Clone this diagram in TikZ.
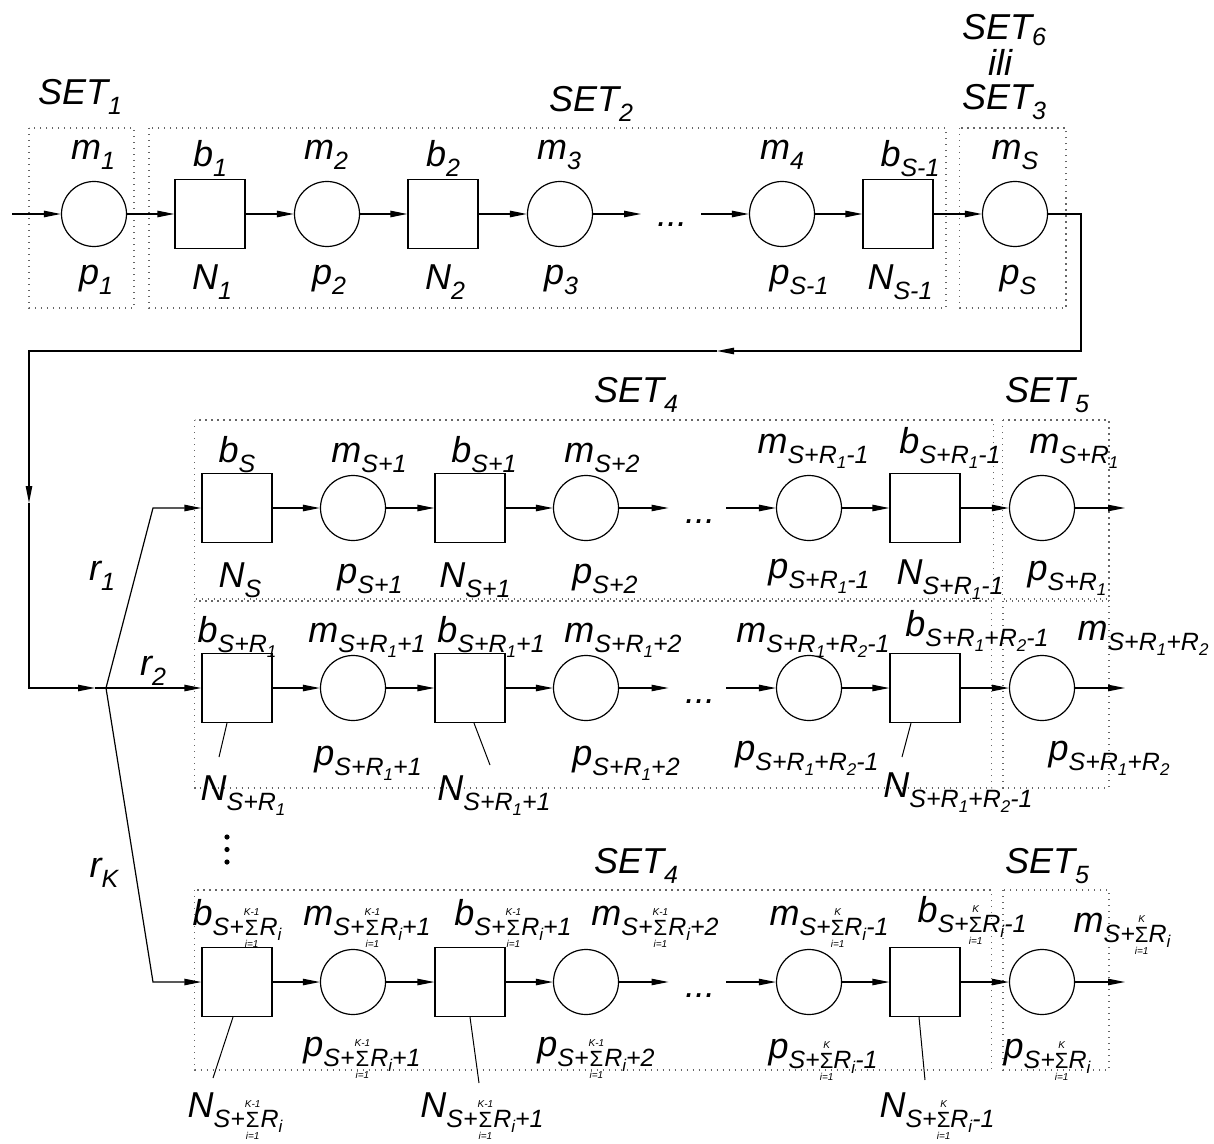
\documentclass[tikz,border=0pt]{standalone}
\usepackage{fontspec}
\setmainfont{Liberation Sans}
\usetikzlibrary{arrows.meta}
\newcommand\sbx[1]{\raisebox{-5pt}{\fontsize{12.5}{13}\selectfont #1}}
\newcommand\ssbx[1]{\raisebox{-2.5pt}{\fontsize{8.5}{9}\selectfont #1}}
\newcommand\smx[1]{\ensuremath{\mathop{\hbox{\fontsize{11}{11}\selectfont\upshape Σ}}\limits^{\hbox{\fontsize{5}{5}\selectfont #1}}_{\hbox{\fontsize{5}{5}\selectfont i=1}}}}
\tikzset{
 circ/.style={draw, circle, minimum size=32.5pt, inner sep=0pt, line width=0.6pt},
 sq/.style={draw, rectangle, minimum width=35pt, minimum height=34.5pt, inner sep=0pt, line width=0.6pt},
 lab/.style={anchor=base, inner sep=0pt, font=\fontsize{18}{20}\selectfont\itshape},
 arr/.style={-{Triangle[length=8.5pt,width=3.2pt]}, line width=0.6pt},
 ln/.style={line width=0.6pt},
 setbox/.style={draw=black!60, line width=0.6pt, dash pattern=on 0.6pt off 2.4pt},
 lead/.style={line width=0.5pt}
}
\begin{document}
\begin{tikzpicture}[x=0.5pt,y=-0.5pt]
\useasboundingbox (0,0) rectangle (1214,1144);
% ---------- SET boxes
\draw[setbox] (29,128) rectangle (134,308);
\draw[setbox] (149,128) rectangle (946,308);
\draw[setbox] (959.5,128) rectangle (1066,308);
\draw[setbox] (194.5,420) rectangle (993.5,599);
\draw[setbox] (1002.5,420) rectangle (1109,599);
\draw[setbox] (194.5,601) rectangle (991.5,788);
\draw[setbox] (1003,601) rectangle (1109,788);
\draw[setbox] (194.5,890) rectangle (991.5,1070);
\draw[setbox] (1003,890) rectangle (1109,1070);
% ---------- top row
\node[circ] (m1) at (94,214) {};
\node[sq] (b1) at (210,214) {};
\node[circ] (m2) at (327,214) {};
\node[sq] (b2) at (443,214) {};
\node[circ] (m3) at (560,214) {};
\node[lab] (d0) at (672,227) {...};
\node[circ] (m4) at (782,214) {};
\node[sq] (bs1) at (898,214) {};
\node[circ] (ms) at (1015,214) {};
\coordinate (in) at (12,214);
\coordinate (d0a) at (641,214);
\coordinate (d0b) at (701,214);
\draw[arr] (in) -- (m1.west);
\draw[arr] (m1.east) -- (b1.west);
\draw[arr] (b1.east) -- (m2.west);
\draw[arr] (m2.east) -- (b2.west);
\draw[arr] (b2.east) -- (m3.west);
\draw[arr] (m3.east) -- (d0a);
\draw[arr] (d0b) -- (m4.west);
\draw[arr] (m4.east) -- (bs1.west);
\draw[arr] (bs1.east) -- (ms.west);
% ---------- feedback
\coordinate (f1) at (1081,214);
\coordinate (f2) at (1081,351);
\coordinate (f3) at (717,351);
\coordinate (f4) at (29,351);
\coordinate (f5) at (29,503);
\coordinate (f6) at (29,688);
\coordinate (f7) at (95,688);
\coordinate (sp) at (106,688);
\coordinate (k1) at (153,508);
\coordinate (k3) at (153,982);
\draw[arr] (ms.east) -- (f1) -- (f2) -- (f3);
\draw[arr] (f3) -- (f4) -- (f5);
\draw[arr] (f5) -- (f6) -- (f7);
\draw[ln] (f7) -- (sp);
% ---------- rows
\foreach \r/\y in {1/508,2/688,3/982}{
  \node[sq] (A\r) at (237,\y) {};
  \node[circ] (B\r) at (353,\y) {};
  \node[sq] (C\r) at (470,\y) {};
  \node[circ] (D\r) at (586,\y) {};
  \coordinate (E\r) at (668.5,\y);
  \node[lab] (dd\r) at (700,\y+15) {...};
  \coordinate (F\r) at (726,\y);
  \node[circ] (G\r) at (809,\y) {};
  \node[sq] (H\r) at (925,\y) {};
  \node[circ] (I\r) at (1042,\y) {};
  \coordinate (O\r) at (1125,\y);
  \draw[arr] (A\r.east) -- (B\r.west);
  \draw[arr] (B\r.east) -- (C\r.west);
  \draw[arr] (C\r.east) -- (D\r.west);
  \draw[arr] (D\r.east) -- (E\r);
  \draw[arr] (F\r) -- (G\r.west);
  \draw[arr] (G\r.east) -- (H\r.west);
  \draw[arr] (H\r.east) -- (I\r.west);
  \draw[arr] (I\r.east) -- (O\r);
}
\draw[arr] (sp) -- (k1) -- (A1.west);
\draw[arr] (sp) -- (A2.west);
\draw[arr] (sp) -- (k3) -- (A3.west);
% vertical dots
\fill (227,837) circle (1.3pt);
\fill (227,849.5) circle (1.3pt);
\fill (227,862) circle (1.3pt);
% ---------- top labels
\node[lab] (t1) at (80,105) {SET\sbx{1}};
\node[lab] (t2) at (591,112) {SET\sbx{2}};
\node[lab] (t6) at (1004,40) {SET\raisebox{2pt}{\sbx{6}}};
\node[lab] (tili) at (1000,76) {ili};
\node[lab] (t3) at (1004,110) {SET\sbx{3}};
\node[lab] at (93,160) {m\sbx{1}};
\node[lab] at (210,167) {b\sbx{1}};
\node[lab] at (326,160) {m\sbx{2}};
\node[lab] at (443,167) {b\sbx{2}};
\node[lab] at (559,160) {m\sbx{3}};
\node[lab] at (782,160) {m\sbx{4}};
\node[lab] at (910,167) {b\sbx{S-1}};
\node[lab] at (1015,160) {m\sbx{S}};
\node[lab] at (96,285) {p\sbx{1}};
\node[lab] at (212,290) {N\sbx{1}};
\node[lab] at (329,285) {p\sbx{2}};
\node[lab] at (445,290) {N\sbx{2}};
\node[lab] at (561,285) {p\sbx{3}};
\node[lab] at (799,285) {p\sbx{S-1}};
\node[lab] at (900,290) {N\sbx{S-1}};
\node[lab] at (1018,285) {p\sbx{S}};
% ---------- row 1 labels
\node[lab] at (636,402) {SET\sbx{4}};
\node[lab] at (1047,402) {SET\sbx{5}};
\node[lab] at (237,462) {b\sbx{S}};
\node[lab] at (369,462) {m\sbx{S+1}};
\node[lab] at (484,462) {b\sbx{S+1}};
\node[lab] at (602,462) {m\sbx{S+2}};
\node[lab] at (813,453) {m\sbx{S+R\ssbx{1}-1}};
\node[lab] at (950,453) {b\sbx{S+R\ssbx{1}-1}};
\node[lab] at (1074,453) {m\sbx{S+R\ssbx{1}}};
\node[lab] at (240,587) {N\sbx{S}};
\node[lab] at (370,583) {p\sbx{S+1}};
\node[lab] at (475,587) {N\sbx{S+1}};
\node[lab] at (605,583) {p\sbx{S+2}};
\node[lab] at (819,578) {p\sbx{S+R\ssbx{1}-1}};
\node[lab] at (950,584) {N\sbx{S+R\ssbx{1}-1}};
\node[lab] at (1067,580) {p\sbx{S+R\ssbx{1}}};
\node[lab] at (102,580) {r\sbx{1}};
% ---------- row 2 labels
\node[lab] at (153,675) {r\sbx{2}};
\node[lab] at (237,642) {b\sbx{S+R\ssbx{1}}};
\node[lab] at (367,642) {m\sbx{S+R\ssbx{1}+1}};
\node[lab] at (491,642) {b\sbx{S+R\ssbx{1}+1}};
\node[lab] at (623,642) {m\sbx{S+R\ssbx{1}+2}};
\node[lab] at (813,642) {m\sbx{S+R\ssbx{1}+R\ssbx{2}-1}};
\node[lab] at (977,636) {b\sbx{S+R\ssbx{1}+R\ssbx{2}-1}};
\node[lab] at (1143,640) {m\sbx{S+R\ssbx{1}+R\ssbx{2}}};
\node[lab] at (368,765) {p\sbx{S+R\ssbx{1}+1}};
\node[lab] at (626,765) {p\sbx{S+R\ssbx{1}+2}};
\node[lab] at (807,760) {p\sbx{S+R\ssbx{1}+R\ssbx{2}-1}};
\node[lab] at (1109,760) {p\sbx{S+R\ssbx{1}+R\ssbx{2}}};
\node[lab] (nA2) at (243,800) {N\sbx{S+R\ssbx{1}}};
\node[lab] (nC2) at (494,800) {N\sbx{S+R\ssbx{1}+1}};
\node[lab] (nH2) at (958,797) {N\sbx{S+R\ssbx{1}+R\ssbx{2}-1}};
\coordinate (lA2) at (219,757);
\coordinate (lC2) at (490,765);
\coordinate (lH2) at (902,757);
\draw[lead] ([xshift=-5pt]A2.south) -- (lA2);
\draw[lead] ([xshift=2pt]C2.south) -- (lC2);
\draw[lead] ([xshift=-7pt]H2.south) -- (lH2);
% ---------- row 3 labels
\node[lab] at (104,877) {r\sbx{K}};
\node[lab] at (636,873) {SET\sbx{4}};
\node[lab] at (1047,873) {SET\sbx{5}};
\node[lab] at (237,925) {b\sbx{S+\smx{K-1}R\ssbx{i}}};
\node[lab] at (367,925) {m\sbx{S+\smx{K-1}R\ssbx{i}+1}};
\node[lab] at (513,925) {b\sbx{S+\smx{K-1}R\ssbx{i}+1}};
\node[lab] at (655,925) {m\sbx{S+\smx{K-1}R\ssbx{i}+2}};
\node[lab] at (829,925) {m\sbx{S+\smx{K}R\ssbx{i}-1}};
\node[lab] at (972,922) {b\sbx{S+\smx{K}R\ssbx{i}-1}};
\node[lab] at (1122,932) {m\sbx{S+\smx{K}R\ssbx{i}}};
\node[lab] at (362,1056) {p\sbx{S+\smx{K-1}R\ssbx{i}+1}};
\node[lab] at (596,1056) {p\sbx{S+\smx{K-1}R\ssbx{i}+2}};
\node[lab] at (823,1058) {p\sbx{S+\smx{K}R\ssbx{i}-1}};
\node[lab] at (1047,1058) {p\sbx{S+\smx{K}R\ssbx{i}}};
\node[lab] (nA3) at (235,1117) {N\sbx{S+\smx{K-1}R\ssbx{i}}};
\node[lab] (nC3) at (482,1117) {N\sbx{S+\smx{K-1}R\ssbx{i}+1}};
\node[lab] (nH3) at (937,1117) {N\sbx{S+\smx{K}R\ssbx{i}-1}};
\coordinate (lA3) at (213,1078);
\coordinate (lC3) at (479,1083);
\coordinate (lH3) at (925,1080);
\draw[lead] ([xshift=-2pt]A3.south) -- (lA3);
\draw[lead] (C3.south) -- (lC3);
\draw[lead] ([xshift=-3pt]H3.south) -- (lH3);
\end{tikzpicture}
\end{document}
